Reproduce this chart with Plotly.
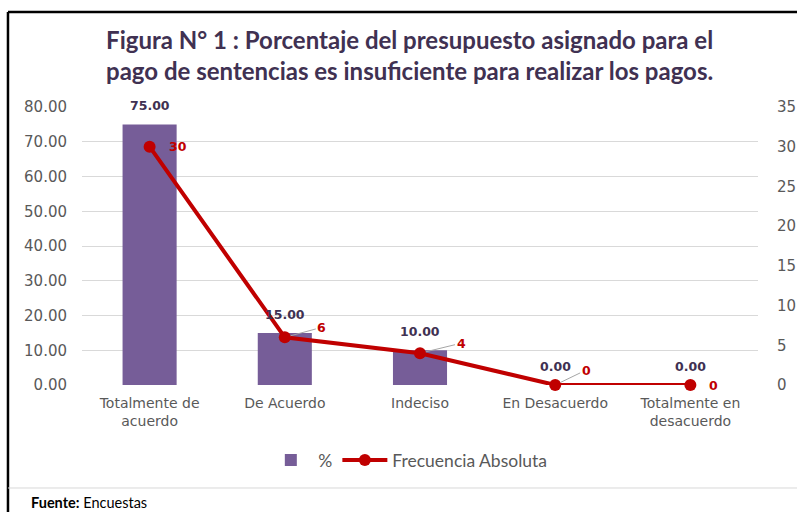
import plotly.graph_objects as go

categories = ["Totalmente de<br>acuerdo", "De Acuerdo", "Indeciso", "En Desacuerdo", "Totalmente en<br>desacuerdo"]
porcentaje = [75.0, 15.0, 10.0, 0.0, 0.0]
frecuencia = [30, 6, 4, 0, 0]
left_ticks = [0, 10, 20, 30, 40, 50, 60, 70, 80]
right_ticks = [0, 5, 10, 15, 20, 25, 30, 35]

BAR = "#765D98"
RED = "#C00000"
DARK = "#403152"
TICK = "#595959"

fig = go.Figure()
fig.add_trace(go.Bar(
    x=categories, y=porcentaje, name="%", marker=dict(color=BAR, line=dict(width=0)),
    width=0.4,
))
fig.add_trace(go.Scatter(
    x=categories, y=frecuencia, name="Frecuencia Absoluta", yaxis="y2",
    mode="lines+markers", line=dict(color=RED, width=4),
    marker=dict(color=RED, size=12), cliponaxis=False,
))

# bar data labels
for c, v in zip(categories, porcentaje):
    fig.add_annotation(
        x=c, y=v, text=f"<b>{v:.2f}</b>", showarrow=False, yanchor="bottom", yshift=9,
        font=dict(family="DejaVu Sans", size=12.5, color=DARK),
    )

# line data labels
offsets = [(28, 0, False), (37, -10, True), (41, -10, True), (31, -15, True), (23, 0, False)]
for c, v, (ax, ay, arrow) in zip(categories, frecuencia, offsets):
    fig.add_annotation(
        x=c, y=v, yref="y2", text=f"<b>{v}</b>", showarrow=True,
        ax=ax, ay=ay, arrowhead=0, arrowwidth=1,
        arrowcolor="#A6A6A6" if arrow else "rgba(0,0,0,0)", standoff=6,
        font=dict(family="DejaVu Sans", size=12.5, color=RED),
    )

fig.add_annotation(
    x=0.485, y=1.0, xref="paper", yref="paper", xanchor="center", yanchor="bottom",
    yshift=20,
    text="<b>Figura N° 1 : Porcentaje del presupuesto asignado para el<br>pago de sentencias es insuficiente para realizar los pagos.</b>",
    showarrow=False, font=dict(family="Lato", size=24, color=DARK),
)
fig.add_annotation(
    x=-0.079, y=-0.424, xref="paper", yref="paper", xanchor="left", yanchor="middle",
    text="<b>Fuente:</b> Encuestas", showarrow=False,
    font=dict(family="Lato", size=14.5, color="#000000"),
)

# frame lines
fig.add_shape(type="line", xref="paper", yref="paper", x0=-0.1095, x1=1.06, y0=1.3417, y1=1.3417,
              line=dict(color="#000000", width=2.5))
fig.add_shape(type="line", xref="paper", yref="paper", x0=-0.1095, x1=-0.1095, y0=1.3417, y1=-0.5,
              line=dict(color="#000000", width=2.5))
fig.add_shape(type="line", xref="paper", yref="paper", x0=-0.1095, x1=1.06, y0=-0.3705, y1=-0.3705,
              line=dict(color="#D9D9D9", width=1))

fig.update_layout(
    width=797, height=512,
    margin=dict(l=82, r=39, t=107, b=127),
    paper_bgcolor="white", plot_bgcolor="white",
    showlegend=True,
    legend=dict(orientation="h", x=0.482, xanchor="center", y=-0.27, yanchor="middle",
                itemwidth=45,
                font=dict(family="Lato", size=17.5, color=TICK), traceorder="normal"),
    xaxis=dict(tickfont=dict(family="DejaVu Sans", size=14, color=TICK),
               showline=False, showgrid=False, ticks="", automargin=False,
               ticklabelstandoff=8),
    yaxis=dict(range=[0, 80], tickvals=left_ticks, tickformat=".2f",
               tickfont=dict(family="DejaVu Sans", size=15, color=TICK),
               gridcolor="#D9D9D9", gridwidth=1, zeroline=False, showline=False,
               ticklabelstandoff=14, automargin=False),
    yaxis2=dict(range=[0, 35], tickvals=right_ticks, overlaying="y", side="right",
                tickfont=dict(family="DejaVu Sans", size=15, color=TICK),
                showgrid=False, zeroline=False, showline=False, ticklabelstandoff=18,
                automargin=False),
)

fig.write_html("out.html", config={"displayModeBar": False},
               post_script="document.body.style.margin='0';document.body.style.overflow='hidden';")
